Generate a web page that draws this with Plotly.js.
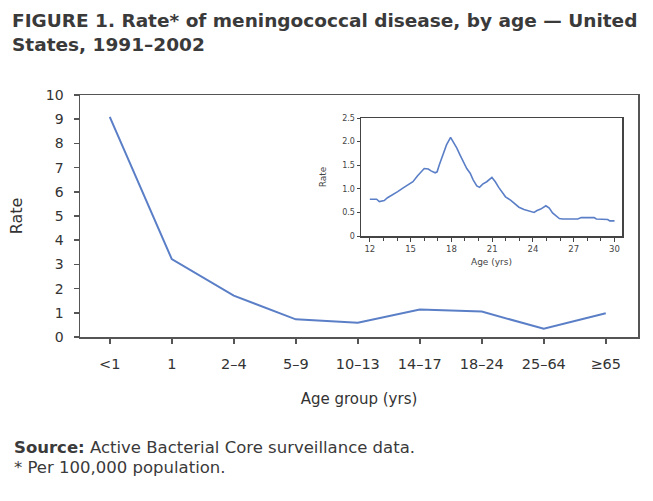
<!DOCTYPE html>
<html>
<head>
<meta charset="utf-8">
<script src="https://cdn.plot.ly/plotly-3.0.1.min.js"></script>
<style>html,body{margin:0;padding:0;background:#fff;}#chart{width:653px;height:501px;}</style>
</head>
<body>
<div id="chart"></div>
<script>
// Main chart data
var ageGroups = ["<1", "1", "2–4", "5–9", "10–13", "14–17", "18–24", "25–64", "≥65"];
var rates = [9.1, 3.22, 1.71, 0.73, 0.59, 1.14, 1.05, 0.34, 0.98];

// Inset data (age in years, rate)
var insetAge = [12.0, 12.5, 12.7, 13.06, 13.3, 13.7, 14.05, 14.4, 14.8, 15.17, 15.5, 15.86, 16.0, 16.3, 16.5, 16.8, 16.95, 17.1, 17.35, 17.64, 17.94, 18.14, 18.4, 18.63, 18.88, 19.13, 19.38, 19.6, 19.87, 20.07, 20.3, 20.6, 20.98, 21.23, 21.48, 21.73, 21.98, 22.35, 22.72, 22.97, 23.34, 23.7, 24.08, 24.3, 24.57, 24.95, 25.2, 25.44, 25.69, 25.94, 26.18, 27.3, 27.55, 28.5, 28.66, 29.5, 29.65, 30.0];
var insetRate = [0.78, 0.78, 0.73, 0.75, 0.81, 0.87, 0.94, 1.01, 1.08, 1.15, 1.27, 1.40, 1.43, 1.42, 1.38, 1.34, 1.36, 1.50, 1.72, 1.93, 2.09, 2.0, 1.86, 1.72, 1.57, 1.43, 1.33, 1.19, 1.06, 1.03, 1.10, 1.15, 1.24, 1.15, 1.03, 0.94, 0.83, 0.76, 0.66, 0.61, 0.56, 0.53, 0.50, 0.54, 0.57, 0.64, 0.59, 0.49, 0.42, 0.37, 0.36, 0.36, 0.39, 0.39, 0.36, 0.35, 0.32, 0.32];
var insetTickVals = [12, 15, 18, 21, 24, 27, 30];
var insetTickText = ["12", "15", "18", "21", "24", "27", "30"];
var insetYVals = [0, 0.5, 1.0, 1.5, 2.0, 2.5];
var insetYText = ["0", "0.5", "1.0", "1.5", "2.0", "2.5"];

var FONT = "DejaVu Sans, Liberation Sans, Arial, sans-serif";
var lineColor = "#5b7fc7";

var traces = [
  {x: ageGroups, y: rates, type: "scatter", mode: "lines", line: {color: lineColor, width: 2}, xaxis: "x", yaxis: "y"},
  {x: insetAge, y: insetRate, type: "scatter", mode: "lines", line: {color: lineColor, width: 1.6}, xaxis: "x2", yaxis: "y2"}
];

var layout = {
  width: 653, height: 501,
  margin: {l: 0, r: 0, t: 0, b: 0},
  paper_bgcolor: "#fff", plot_bgcolor: "#fff",
  showlegend: false,
  font: {family: FONT, color: "#333"},
  xaxis: {
    domain: [80/653, 638/653],
    type: "category",
    range: [-0.48, 8.52],
    showgrid: false, zeroline: false,
    showline: true, linecolor: "#555", linewidth: 1.5, mirror: true,
    ticks: "outside", ticklen: 5, tickcolor: "#555", tickwidth: 1.5,
    ticklabelstandoff: 8,
    tickfont: {size: 14.5, color: "#333"},
    title: {text: "Age group (yrs)", font: {size: 15, color: "#333"}, standoff: 22},
    fixedrange: true
  },
  yaxis: {
    domain: [1 - 337/501, 1 - 95/501],
    range: [0, 10], dtick: 1,
    showgrid: false, zeroline: false,
    showline: true, linecolor: "#555", linewidth: 1.5, mirror: true,
    ticks: "outside", ticklen: 5, tickcolor: "#555", tickwidth: 1.5,
    ticklabelstandoff: 7,
    tickfont: {size: 14, color: "#333"},
    title: {text: "Rate", font: {size: 16, color: "#333"}, standoff: 19},
    fixedrange: true
  },
  xaxis2: {
    domain: [361/653, 622/653],
    anchor: "y2",
    range: [11.35, 30.55],
    tickvals: insetTickVals, ticktext: insetTickText,
    minor: {dtick: 1, ticks: "outside", ticklen: 3, tickcolor: "#444", showgrid: false},
    showgrid: false, zeroline: false,
    showline: true, linecolor: "#444", linewidth: 1.5, mirror: true,
    ticks: "outside", ticklen: 4, tickcolor: "#444", tickwidth: 1,
    tickfont: {size: 8.5, color: "#444"},
    title: {text: "Age (yrs)", font: {size: 9, color: "#444"}, standoff: 6},
    fixedrange: true
  },
  yaxis2: {
    domain: [1 - 236/501, 1 - 118/501],
    anchor: "x2",
    range: [0, 2.5],
    tickvals: insetYVals, ticktext: insetYText,
    showgrid: false, zeroline: false,
    showline: true, linecolor: "#444", linewidth: 1.5, mirror: true,
    ticks: "outside", ticklen: 3, tickcolor: "#444", tickwidth: 1,
    tickfont: {size: 8, color: "#444"},
    title: {text: "Rate", font: {size: 9, color: "#444"}, standoff: 14},
    fixedrange: true
  },
  annotations: [
    {text: "<b>FIGURE 1. Rate* of meningococcal disease, by age — United<br>States, 1991–2002</b>",
     xref: "paper", yref: "paper", x: 10/653, y: 1 - 8/501, xanchor: "left", yanchor: "top", align: "left",
     showarrow: false, font: {family: FONT, size: 18.5, color: "#3a3a3a"}},
    {text: "<b>Source:</b> Active Bacterial Core surveillance data.", xref: "paper", yref: "paper",
     x: 12/653, y: 1 - 447/501, xanchor: "left", yanchor: "middle", showarrow: false,
     font: {family: FONT, size: 16.5, color: "#3a3a3a"}},
    {text: "* Per 100,000 population.", xref: "paper", yref: "paper",
     x: 12/653, y: 1 - 467/501, xanchor: "left", yanchor: "middle", showarrow: false,
     font: {family: FONT, size: 16.5, color: "#3a3a3a"}}
  ]
};

Plotly.newPlot("chart", traces, layout, {displayModeBar: false, staticPlot: true});
</script>
</body>
</html>
